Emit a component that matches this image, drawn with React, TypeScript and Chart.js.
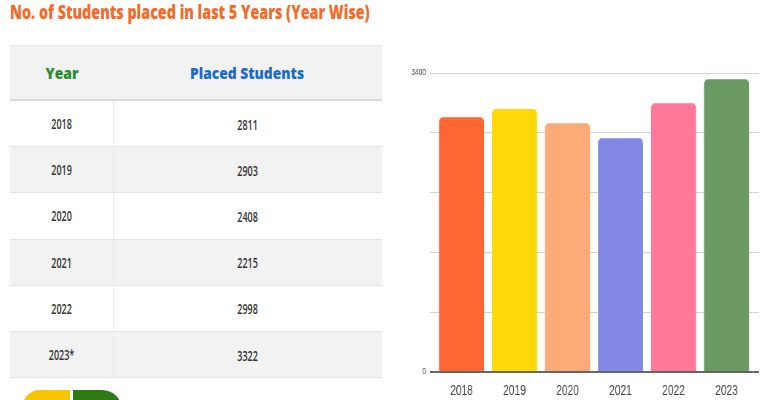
import React, { useEffect, useLayoutEffect, useRef } from "react";
import { Chart, registerables } from "chart.js";

Chart.register(...registerables);

const years = ["2018", "2019", "2020", "2021", "2022", "2023"];
const tableYears = ["2018", "2019", "2020", "2021", "2022", "2023*"];
const placedStudents = [2811, 2903, 2408, 2215, 2998, 3322];
const chartValues = [2897, 2991, 2829, 2658, 3056, 3328];
const barColors = ["#ff6633", "#ffd809", "#fcaa76", "#8388e6", "#ff7799", "#6a9a62"];
const yLabelTicks = [0, 3400];
const yMax = 3400;
const yStep = 680;

const S = 0.73; // horizontal squash of the reference picture
const CW = 373;
const CH = 340;

function FitText({ text, width, style }: { text: string; width: number; style: React.CSSProperties }) {
  const ref = useRef<HTMLSpanElement>(null);
  useLayoutEffect(() => {
    const el = ref.current;
    if (!el) return;
    el.style.transform = "none";
    const w = el.offsetWidth;
    if (w > 0) el.style.transform = `scaleX(${width / w})`;
  }, [text, width]);
  return (
    <span ref={ref} style={{ display: "inline-block", whiteSpace: "nowrap", ...style }}>
      {text}
    </span>
  );
}

function BarChart() {
  const ref = useRef<HTMLCanvasElement>(null);
  useEffect(() => {
    if (!ref.current) return;
    const gridColor = (ctx: any) => (ctx.tick && ctx.tick.value === 0 ? "#666666" : "#d3d3d3");
    const gridWidth = (ctx: any) => (ctx.tick && ctx.tick.value === 0 ? 2 : 1);
    const chart = new Chart(ref.current, {
      type: "bar",
      data: {
        labels: years,
        datasets: [
          {
            data: chartValues,
            backgroundColor: barColors,
            borderRadius: 5,
            barPercentage: 0.85,
            categoryPercentage: 1,
          },
        ],
      },
      options: {
        responsive: false,
        animation: false,
        layout: { padding: { top: 13, right: 14 / S, left: 0, bottom: 0 } },
        plugins: { legend: { display: false }, tooltip: { enabled: false } },
        scales: {
          x: {
            grid: { display: false },
            border: { display: false },
            ticks: { color: "#444444", font: { family: "'Liberation Sans', Arial", size: 14 }, padding: 3 },
            afterFit: (s: any) => {
              s.height = 28;
            },
          },
          y: {
            min: 0,
            max: yMax,
            border: { display: false },
            grid: { color: gridColor, lineWidth: gridWidth, tickLength: 5 / S },
            ticks: {
              stepSize: yStep,
              color: "#444444",
              font: { family: "'Liberation Sans', Arial", size: 9 },
              padding: 4 / S,
              callback: (v: any) => (yLabelTicks.includes(Number(v)) ? String(v) : ""),
            },
            afterFit: (s: any) => {
              s.width = 35 / S;
            },
          },
          y2: {
            position: "right",
            min: 0,
            max: yMax,
            border: { display: false },
            grid: { drawOnChartArea: false, color: gridColor, lineWidth: gridWidth, tickLength: 6 / S },
            ticks: { stepSize: yStep, display: false },
            afterFit: (s: any) => {
              s.width = 6 / S;
            },
          },
        },
      },
    });
    return () => chart.destroy();
  }, []);
  return (
    <canvas
      ref={ref}
      width={Math.round(CW / S)}
      height={CH}
      style={{
        position: "absolute",
        left: 400,
        top: 60,
        width: Math.round(CW / S),
        height: CH,
        transform: `scaleX(${S})`,
        transformOrigin: "0 0",
      }}
    />
  );
}

export default function App() {
  const headerH = 56;
  const rowH = 46.2;
  const tableLeft = 10;
  const tableTop = 45;
  const col1 = 103;
  const tableW = 372;
  const bodyFont = "'Open Sans', sans-serif";
  const cellText: React.CSSProperties = {
    display: "inline-block",
    fontSize: 14.5,
    fontWeight: 600,
    color: "#333",
    transform: "scaleX(0.62)",
  };
  return (
    <div
      style={{
        position: "fixed",
        left: 0,
        top: 0,
        width: 773,
        height: 400,
        overflow: "hidden",
        background: "#ffffff",
        fontFamily: bodyFont,
      }}
    >
      <div style={{ position: "absolute", left: 10, top: -1, lineHeight: "26px" }}>
        <FitText
          text="No. of Students placed in last 5 Years (Year Wise)"
          width={360}
          style={{ fontSize: 19, fontWeight: 800, color: "#f36b2a", transformOrigin: "0 0" }}
        />
      </div>

      <div style={{ position: "absolute", left: tableLeft, top: tableTop, width: tableW }}>
        <div
          style={{
            height: headerH,
            background: "#f2f2f2",
            borderTop: "1px solid #e6e6e6",
            borderBottom: "2px solid #dcdcdc",
            boxSizing: "border-box",
            display: "flex",
            alignItems: "center",
          }}
        >
          <div style={{ width: col1, textAlign: "center" }}>
            <FitText text="Year" width={33} style={{ fontSize: 16, fontWeight: 800, color: "#2b8a2e" }} />
          </div>
          <div style={{ flex: 1, textAlign: "center" }}>
            <FitText text="Placed Students" width={114} style={{ fontSize: 16, fontWeight: 800, color: "#1a6cc4" }} />
          </div>
        </div>
        {tableYears.map((y, i) => (
          <div
            key={y}
            style={{
              height: rowH,
              background: i % 2 === 1 ? "#f2f2f2" : "#ffffff",
              borderBottom: "1px solid #e4e4e4",
              boxSizing: "border-box",
              display: "flex",
              alignItems: "center",
            }}
          >
            <div
              style={{
                width: col1,
                textAlign: "center",
                height: "100%",
                display: "flex",
                alignItems: "center",
                justifyContent: "center",
                borderRight: "1px solid #ececec",
              }}
            >
              <span style={cellText}>{y}</span>
            </div>
            <div style={{ flex: 1, textAlign: "center" }}>
              <span style={cellText}>{placedStudents[i]}</span>
            </div>
          </div>
        ))}
      </div>

      <div
        style={{
          position: "absolute",
          left: 22,
          top: 390,
          width: 48,
          height: 30,
          background: "#f7c600",
          borderTopLeftRadius: 18,
        }}
      />
      <div
        style={{
          position: "absolute",
          left: 73,
          top: 390,
          width: 49,
          height: 30,
          background: "#2f7a14",
          borderTopRightRadius: 20,
        }}
      />

      <BarChart />
    </div>
  );
}
